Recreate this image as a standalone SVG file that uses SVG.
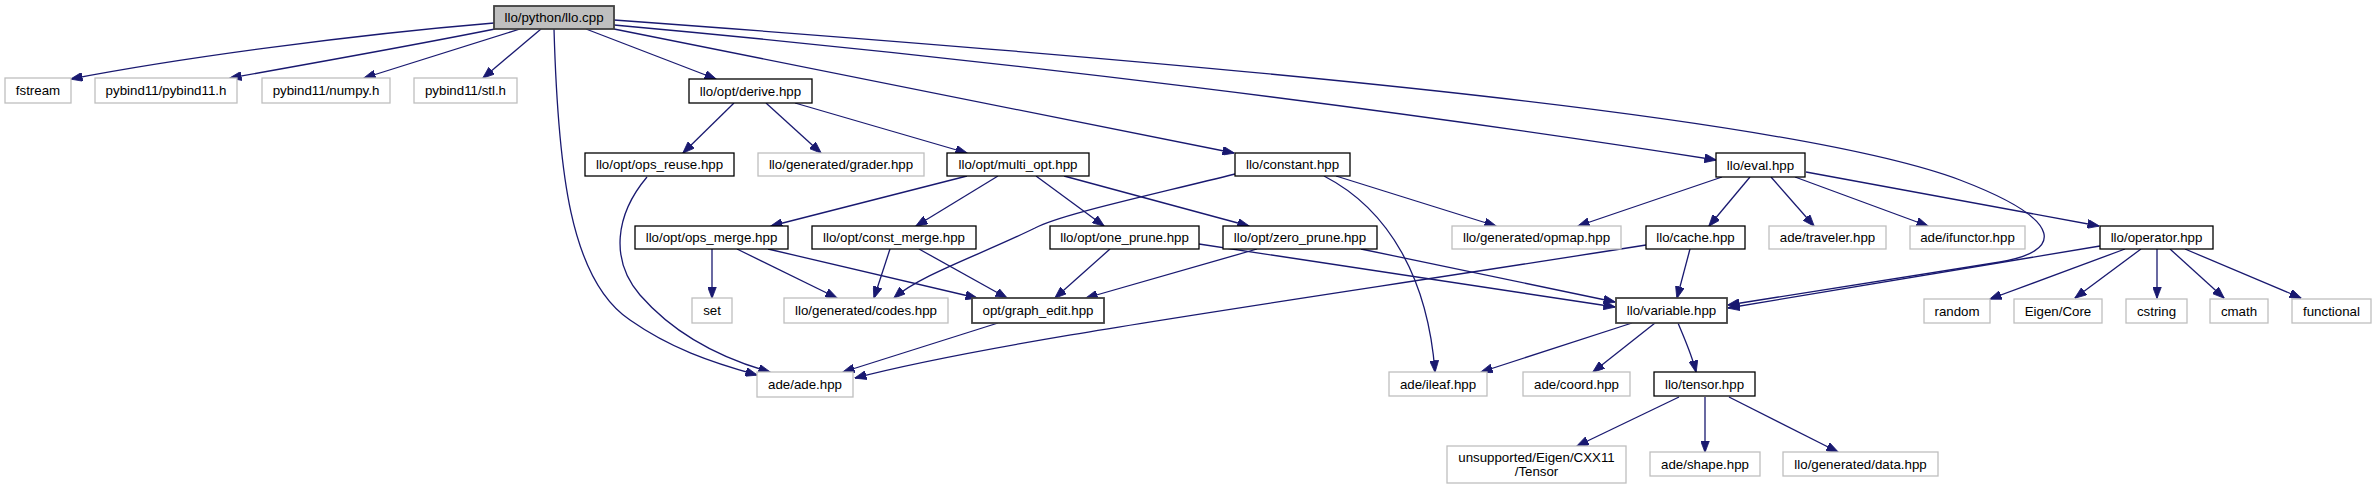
<svg xmlns="http://www.w3.org/2000/svg" width="2376" height="489" viewBox="0 0 2376 489">
<style>
text{font-family:"Liberation Sans",Arial,Helvetica,sans-serif;font-size:13.3px;fill:#000;text-anchor:middle}
.ext{fill:#fff;stroke:#bfbfbf;stroke-width:1.3}
.loc{fill:#fff;stroke:#000;stroke-width:1.3}
.dark{fill:#fff;stroke:#404040;stroke-width:1.8}
.root{fill:#bfbfbf;stroke:#404040;stroke-width:1.8}
#edges path{fill:none;stroke:#191970;stroke-width:1.3;marker-end:url(#arr)}
</style>
<defs>
<marker id="arr" markerUnits="userSpaceOnUse" markerWidth="12" markerHeight="9" refX="11.5" refY="4.5" orient="auto">
<path d="M0,0 L12,4.5 L0,9 z" fill="#191970" stroke="#191970" stroke-width="0.8"/>
</marker>
</defs>
<rect width="2376" height="489" fill="#fff"/>
<g id="edges">
<path d="M494,23 C350,35 180,58 71,79"/>
<path d="M495,29 C420,44 320,62 230,78"/>
<path d="M520,29 L364,78"/>
<path d="M541,29 L483,78"/>
<path d="M586,29 L716,79"/>
<path d="M554,29 C558,170 570,280 630,320 C670,348 710,362 757,375"/>
<path d="M614,29 L1234,153"/>
<path d="M614,25 C1000,60 1400,110 1716,160"/>
<path d="M614,20 C1300,70 1800,120 1960,180 C2070,222 2060,252 2000,262 L1728,305"/>
<path d="M734,103 L683,153"/>
<path d="M766,103 L821,153"/>
<path d="M795,103 L967,153"/>
<path d="M647,177 C615,215 610,260 640,295 C675,335 720,358 770,372"/>
<path d="M967,176 L771,226"/>
<path d="M998,176 L916,226"/>
<path d="M1036,176 L1104,226"/>
<path d="M1064,176 L1249,226"/>
<path d="M1235,174 C1130,200 1060,215 1035,228 C980,255 920,275 894,298"/>
<path d="M1336,176 L1496,226"/>
<path d="M1324,176 C1390,210 1428,280 1435,372"/>
<path d="M1722,177 L1578,226"/>
<path d="M1750,177 L1709,226"/>
<path d="M1771,177 L1814,226"/>
<path d="M1795,177 L1928,226"/>
<path d="M1806,172 L2099,226"/>
<path d="M712,249 L712,298"/>
<path d="M737,249 L837,298"/>
<path d="M768,249 L977,298"/>
<path d="M890,249 L874,298"/>
<path d="M919,249 L1007,298"/>
<path d="M1110,249 L1055,298"/>
<path d="M1199,244 L1615,307"/>
<path d="M1257,249 L1086,298"/>
<path d="M1361,249 L1615,302"/>
<path d="M1646,245 C1300,300 1000,340 855,378"/>
<path d="M1690,249 L1677,298"/>
<path d="M2100,246 L1728,308"/>
<path d="M2125,249 L1990,299"/>
<path d="M2141,249 L2075,298"/>
<path d="M2157,249 L2157,298"/>
<path d="M2170,249 L2224,298"/>
<path d="M2185,249 L2301,298"/>
<path d="M998,323 L843,372"/>
<path d="M1632,323 L1481,372"/>
<path d="M1655,323 L1593,372"/>
<path d="M1678,323 C1685,340 1692,355 1696,372"/>
<path d="M1679,397 L1577,446"/>
<path d="M1705,397 L1705,452"/>
<path d="M1729,397 L1838,452"/>
</g>
<g id="n_root"><rect class="root" x="494" y="6" width="120" height="23"/><text x="554" y="22">llo/python/llo.cpp</text></g>
<g id="n_fstream"><rect class="ext" x="5" y="78" width="66" height="25"/><text x="38" y="95">fstream</text></g>
<g id="n_pybind11"><rect class="ext" x="95" y="78" width="142" height="25"/><text x="166" y="95">pybind11/pybind11.h</text></g>
<g id="n_numpy"><rect class="ext" x="262" y="78" width="128" height="25"/><text x="326" y="95">pybind11/numpy.h</text></g>
<g id="n_stl"><rect class="ext" x="414" y="78" width="103" height="25"/><text x="465.5" y="95">pybind11/stl.h</text></g>
<g id="n_derive"><rect class="loc" x="689" y="79" width="123" height="24"/><text x="750.5" y="95.5">llo/opt/derive.hpp</text></g>
<g id="n_ops_reuse"><rect class="loc" x="585" y="153" width="149" height="23"/><text x="659.5" y="169">llo/opt/ops_reuse.hpp</text></g>
<g id="n_grader"><rect class="ext" x="758" y="153" width="166" height="23"/><text x="841" y="169">llo/generated/grader.hpp</text></g>
<g id="n_multi_opt"><rect class="loc" x="947" y="153" width="142" height="23"/><text x="1018" y="169">llo/opt/multi_opt.hpp</text></g>
<g id="n_constant"><rect class="loc" x="1235" y="153" width="115" height="23"/><text x="1292.5" y="169">llo/constant.hpp</text></g>
<g id="n_eval"><rect class="loc" x="1716" y="153" width="89" height="24"/><text x="1760.5" y="169.5">llo/eval.hpp</text></g>
<g id="n_ops_merge"><rect class="loc" x="635" y="226" width="153" height="23"/><text x="711.5" y="242">llo/opt/ops_merge.hpp</text></g>
<g id="n_const_merge"><rect class="loc" x="812" y="226" width="164" height="23"/><text x="894" y="242">llo/opt/const_merge.hpp</text></g>
<g id="n_one_prune"><rect class="loc" x="1050" y="226" width="149" height="23"/><text x="1124.5" y="242">llo/opt/one_prune.hpp</text></g>
<g id="n_zero_prune"><rect class="loc" x="1223" y="226" width="154" height="23"/><text x="1300" y="242">llo/opt/zero_prune.hpp</text></g>
<g id="n_opmap"><rect class="ext" x="1452" y="226" width="169" height="23"/><text x="1536.5" y="242">llo/generated/opmap.hpp</text></g>
<g id="n_cache"><rect class="loc" x="1646" y="226" width="99" height="23"/><text x="1695.5" y="242">llo/cache.hpp</text></g>
<g id="n_traveler"><rect class="ext" x="1769" y="226" width="117" height="23"/><text x="1827.5" y="242">ade/traveler.hpp</text></g>
<g id="n_ifunctor"><rect class="ext" x="1910" y="226" width="115" height="23"/><text x="1967.5" y="242">ade/ifunctor.hpp</text></g>
<g id="n_operator"><rect class="loc" x="2100" y="226" width="113" height="23"/><text x="2156.5" y="242">llo/operator.hpp</text></g>
<g id="n_set"><rect class="ext" x="692" y="298" width="40" height="25"/><text x="712" y="315">set</text></g>
<g id="n_codes"><rect class="ext" x="784" y="298" width="164" height="25"/><text x="866" y="315">llo/generated/codes.hpp</text></g>
<g id="n_graph_edit"><rect class="dark" x="972" y="298" width="132" height="25"/><text x="1038" y="315">opt/graph_edit.hpp</text></g>
<g id="n_variable"><rect class="dark" x="1616" y="298" width="111" height="25"/><text x="1671.5" y="315">llo/variable.hpp</text></g>
<g id="n_random"><rect class="ext" x="1924" y="299" width="66" height="24"/><text x="1957" y="315.5">random</text></g>
<g id="n_eigen_core"><rect class="ext" x="2014" y="299" width="88" height="24"/><text x="2058" y="315.5">Eigen/Core</text></g>
<g id="n_cstring"><rect class="ext" x="2126" y="299" width="61" height="24"/><text x="2156.5" y="315.5">cstring</text></g>
<g id="n_cmath"><rect class="ext" x="2210" y="299" width="58" height="24"/><text x="2239" y="315.5">cmath</text></g>
<g id="n_functional"><rect class="ext" x="2292" y="299" width="79" height="24"/><text x="2331.5" y="315.5">functional</text></g>
<g id="n_ade"><rect class="ext" x="757" y="372" width="96" height="25"/><text x="805" y="389">ade/ade.hpp</text></g>
<g id="n_ileaf"><rect class="ext" x="1389" y="372" width="98" height="24"/><text x="1438" y="388.5">ade/ileaf.hpp</text></g>
<g id="n_coord"><rect class="ext" x="1523" y="372" width="107" height="24"/><text x="1576.5" y="388.5">ade/coord.hpp</text></g>
<g id="n_tensor"><rect class="loc" x="1654" y="372" width="101" height="24"/><text x="1704.5" y="388.5">llo/tensor.hpp</text></g>
<g id="n_unsupported"><rect class="ext" x="1447" y="446" width="179" height="37"/><text x="1536.5" y="462">unsupported/Eigen/CXX11</text><text x="1536.5" y="476">/Tensor</text></g>
<g id="n_shape"><rect class="ext" x="1650" y="452" width="110" height="24"/><text x="1705" y="468.5">ade/shape.hpp</text></g>
<g id="n_data"><rect class="ext" x="1783" y="452" width="155" height="24"/><text x="1860.5" y="468.5">llo/generated/data.hpp</text></g>
</svg>
